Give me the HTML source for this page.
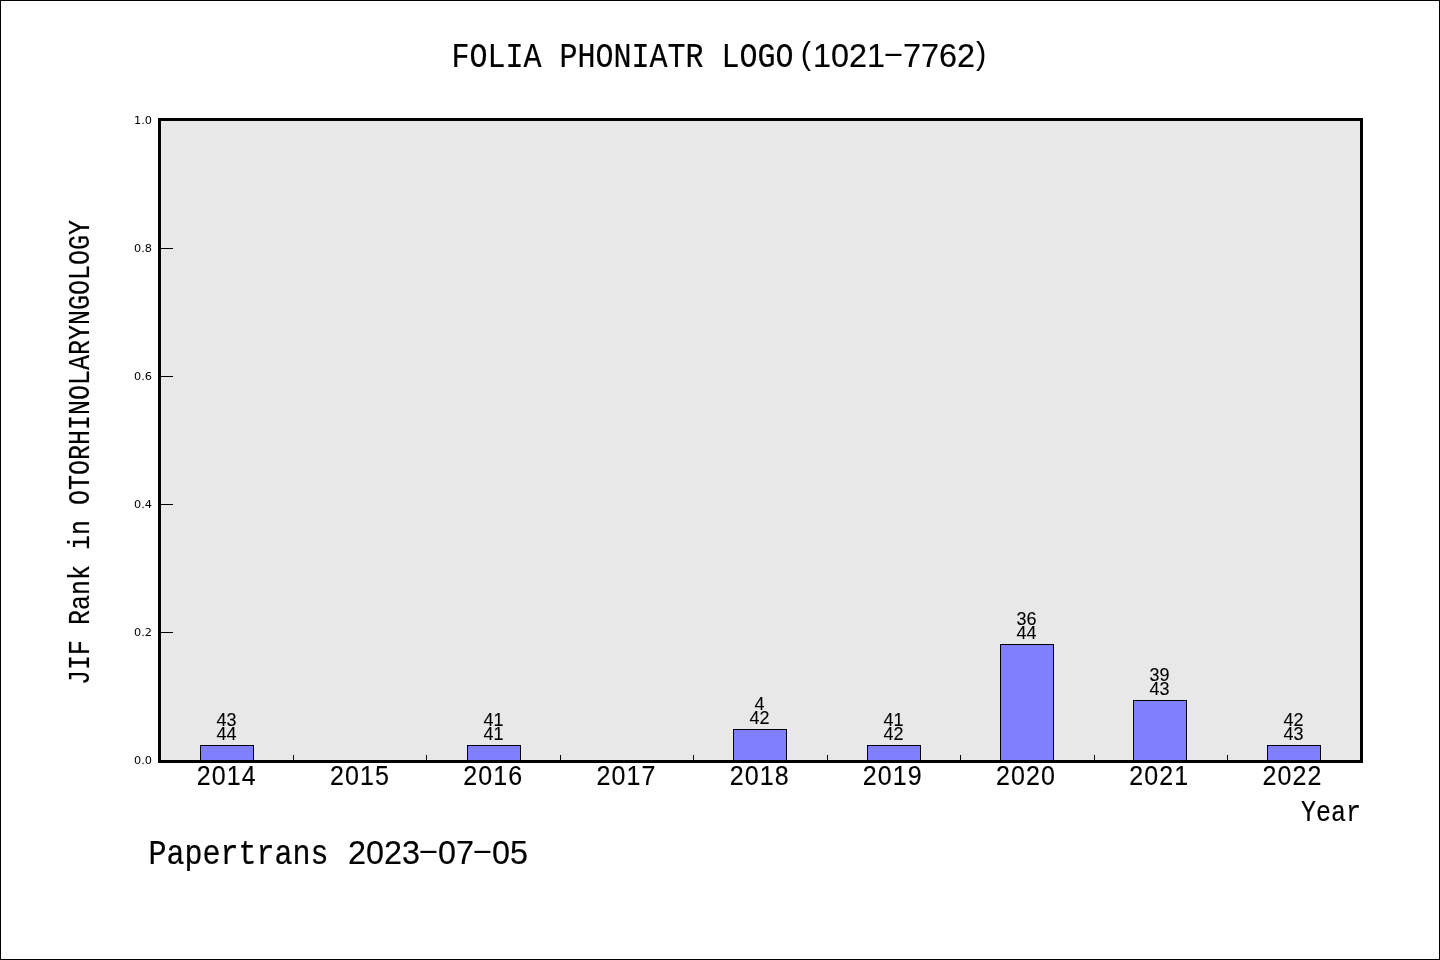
<!DOCTYPE html>
<html lang="en"><head><meta charset="utf-8"><title>FOLIA PHONIATR LOGO(1021-7762)</title>
<style>html,body{margin:0;padding:0;background:#fff;overflow:hidden}svg{display:block}text{fill:#000;white-space:pre}</style>
</head><body>
<svg width="1440" height="960" viewBox="0 0 1440 960">
<rect x="0" y="0" width="1440" height="960" fill="#fff"/>
<rect x="0.5" y="0.5" width="1439" height="959" fill="none" stroke="#000" stroke-width="1"/>
<rect x="159.5" y="119.5" width="1202" height="642" fill="#e8e8e8"/>
<rect x="200.5" y="745.5" width="53" height="15" fill="#8080ff" stroke="#000" stroke-width="1"/>
<rect x="467.5" y="745.5" width="53" height="15" fill="#8080ff" stroke="#000" stroke-width="1"/>
<rect x="733.5" y="729.5" width="53" height="31" fill="#8080ff" stroke="#000" stroke-width="1"/>
<rect x="867.5" y="745.5" width="53" height="15" fill="#8080ff" stroke="#000" stroke-width="1"/>
<rect x="1000.5" y="644.5" width="53" height="116" fill="#8080ff" stroke="#000" stroke-width="1"/>
<rect x="1133.5" y="700.5" width="53" height="60" fill="#8080ff" stroke="#000" stroke-width="1"/>
<rect x="1267.5" y="745.5" width="53" height="15" fill="#8080ff" stroke="#000" stroke-width="1"/>
<line x1="293.5" y1="755" x2="293.5" y2="761" stroke="#000" stroke-width="1"/>
<line x1="426.5" y1="755" x2="426.5" y2="761" stroke="#000" stroke-width="1"/>
<line x1="560.5" y1="755" x2="560.5" y2="761" stroke="#000" stroke-width="1"/>
<line x1="693.5" y1="755" x2="693.5" y2="761" stroke="#000" stroke-width="1"/>
<line x1="827.5" y1="755" x2="827.5" y2="761" stroke="#000" stroke-width="1"/>
<line x1="960.5" y1="755" x2="960.5" y2="761" stroke="#000" stroke-width="1"/>
<line x1="1094.5" y1="755" x2="1094.5" y2="761" stroke="#000" stroke-width="1"/>
<line x1="1227.5" y1="755" x2="1227.5" y2="761" stroke="#000" stroke-width="1"/>
<line x1="160" y1="632.5" x2="173" y2="632.5" stroke="#000" stroke-width="1"/>
<line x1="160" y1="504.5" x2="173" y2="504.5" stroke="#000" stroke-width="1"/>
<line x1="160" y1="376.5" x2="173" y2="376.5" stroke="#000" stroke-width="1"/>
<line x1="160" y1="248.5" x2="173" y2="248.5" stroke="#000" stroke-width="1"/>
<rect x="159.5" y="119.5" width="1202" height="642" fill="none" stroke="#000" stroke-width="3"/>
<text x="152" y="764" font-family="'DejaVu Sans', 'Liberation Sans', sans-serif" font-size="11.3" text-anchor="end">0.0</text>
<text x="152" y="636" font-family="'DejaVu Sans', 'Liberation Sans', sans-serif" font-size="11.3" text-anchor="end">0.2</text>
<text x="152" y="508" font-family="'DejaVu Sans', 'Liberation Sans', sans-serif" font-size="11.3" text-anchor="end">0.4</text>
<text x="152" y="380" font-family="'DejaVu Sans', 'Liberation Sans', sans-serif" font-size="11.3" text-anchor="end">0.6</text>
<text x="152" y="252" font-family="'DejaVu Sans', 'Liberation Sans', sans-serif" font-size="11.3" text-anchor="end">0.8</text>
<text x="152" y="124" font-family="'DejaVu Sans', 'Liberation Sans', sans-serif" font-size="11.3" text-anchor="end">1.0</text>
<text transform="translate(226.5 740.1)" font-size="19.44" font-family="'Liberation Mono', monospace" stroke="#000" stroke-width="0.12" xml:space="preserve"><tspan x="-10" y="0" font-family="'Liberation Sans', sans-serif" font-size="18.4" stroke-width="0.1" textLength="20" lengthAdjust="spacingAndGlyphs">44</tspan></text>
<text transform="translate(226.5 725.7)" font-size="19.44" font-family="'Liberation Mono', monospace" stroke="#000" stroke-width="0.12" xml:space="preserve"><tspan x="-10" y="0" font-family="'Liberation Sans', sans-serif" font-size="18.4" stroke-width="0.1" textLength="20" lengthAdjust="spacingAndGlyphs">43</tspan></text>
<text transform="translate(493.5 740.1)" font-size="19.44" font-family="'Liberation Mono', monospace" stroke="#000" stroke-width="0.12" xml:space="preserve"><tspan x="-10" y="0" font-family="'Liberation Sans', sans-serif" font-size="18.4" stroke-width="0.1" textLength="20" lengthAdjust="spacingAndGlyphs">41</tspan></text>
<text transform="translate(493.5 725.7)" font-size="19.44" font-family="'Liberation Mono', monospace" stroke="#000" stroke-width="0.12" xml:space="preserve"><tspan x="-10" y="0" font-family="'Liberation Sans', sans-serif" font-size="18.4" stroke-width="0.1" textLength="20" lengthAdjust="spacingAndGlyphs">41</tspan></text>
<text transform="translate(759.5 724.1)" font-size="19.44" font-family="'Liberation Mono', monospace" stroke="#000" stroke-width="0.12" xml:space="preserve"><tspan x="-10" y="0" font-family="'Liberation Sans', sans-serif" font-size="18.4" stroke-width="0.1" textLength="20" lengthAdjust="spacingAndGlyphs">42</tspan></text>
<text transform="translate(759.5 709.7)" font-size="19.44" font-family="'Liberation Mono', monospace" stroke="#000" stroke-width="0.12" xml:space="preserve"><tspan x="-5" y="0" font-family="'Liberation Sans', sans-serif" font-size="18.4" stroke-width="0.1" textLength="10" lengthAdjust="spacingAndGlyphs">4</tspan></text>
<text transform="translate(893.5 740.1)" font-size="19.44" font-family="'Liberation Mono', monospace" stroke="#000" stroke-width="0.12" xml:space="preserve"><tspan x="-10" y="0" font-family="'Liberation Sans', sans-serif" font-size="18.4" stroke-width="0.1" textLength="20" lengthAdjust="spacingAndGlyphs">42</tspan></text>
<text transform="translate(893.5 725.7)" font-size="19.44" font-family="'Liberation Mono', monospace" stroke="#000" stroke-width="0.12" xml:space="preserve"><tspan x="-10" y="0" font-family="'Liberation Sans', sans-serif" font-size="18.4" stroke-width="0.1" textLength="20" lengthAdjust="spacingAndGlyphs">41</tspan></text>
<text transform="translate(1026.5 639.1)" font-size="19.44" font-family="'Liberation Mono', monospace" stroke="#000" stroke-width="0.12" xml:space="preserve"><tspan x="-10" y="0" font-family="'Liberation Sans', sans-serif" font-size="18.4" stroke-width="0.1" textLength="20" lengthAdjust="spacingAndGlyphs">44</tspan></text>
<text transform="translate(1026.5 624.7)" font-size="19.44" font-family="'Liberation Mono', monospace" stroke="#000" stroke-width="0.12" xml:space="preserve"><tspan x="-10" y="0" font-family="'Liberation Sans', sans-serif" font-size="18.4" stroke-width="0.1" textLength="20" lengthAdjust="spacingAndGlyphs">36</tspan></text>
<text transform="translate(1159.5 695.1)" font-size="19.44" font-family="'Liberation Mono', monospace" stroke="#000" stroke-width="0.12" xml:space="preserve"><tspan x="-10" y="0" font-family="'Liberation Sans', sans-serif" font-size="18.4" stroke-width="0.1" textLength="20" lengthAdjust="spacingAndGlyphs">43</tspan></text>
<text transform="translate(1159.5 680.7)" font-size="19.44" font-family="'Liberation Mono', monospace" stroke="#000" stroke-width="0.12" xml:space="preserve"><tspan x="-10" y="0" font-family="'Liberation Sans', sans-serif" font-size="18.4" stroke-width="0.1" textLength="20" lengthAdjust="spacingAndGlyphs">39</tspan></text>
<text transform="translate(1293.5 740.1)" font-size="19.44" font-family="'Liberation Mono', monospace" stroke="#000" stroke-width="0.12" xml:space="preserve"><tspan x="-10" y="0" font-family="'Liberation Sans', sans-serif" font-size="18.4" stroke-width="0.1" textLength="20" lengthAdjust="spacingAndGlyphs">43</tspan></text>
<text transform="translate(1293.5 725.7)" font-size="19.44" font-family="'Liberation Mono', monospace" stroke="#000" stroke-width="0.12" xml:space="preserve"><tspan x="-10" y="0" font-family="'Liberation Sans', sans-serif" font-size="18.4" stroke-width="0.1" textLength="20" lengthAdjust="spacingAndGlyphs">42</tspan></text>
<text transform="translate(226.3 785)" font-size="29.16" font-family="'Liberation Mono', monospace" stroke="#000" stroke-width="0.18" xml:space="preserve"><tspan x="-29.46" y="0" font-family="'Liberation Sans', sans-serif" font-size="27.6" stroke-width="0.15" letter-spacing="1.2" textLength="60" lengthAdjust="spacingAndGlyphs">2014</tspan></text>
<text transform="translate(359.5 785)" font-size="29.16" font-family="'Liberation Mono', monospace" stroke="#000" stroke-width="0.18" xml:space="preserve"><tspan x="-29.46" y="0" font-family="'Liberation Sans', sans-serif" font-size="27.6" stroke-width="0.15" letter-spacing="1.2" textLength="60" lengthAdjust="spacingAndGlyphs">2015</tspan></text>
<text transform="translate(492.7 785)" font-size="29.16" font-family="'Liberation Mono', monospace" stroke="#000" stroke-width="0.18" xml:space="preserve"><tspan x="-29.46" y="0" font-family="'Liberation Sans', sans-serif" font-size="27.6" stroke-width="0.15" letter-spacing="1.2" textLength="60" lengthAdjust="spacingAndGlyphs">2016</tspan></text>
<text transform="translate(625.9 785)" font-size="29.16" font-family="'Liberation Mono', monospace" stroke="#000" stroke-width="0.18" xml:space="preserve"><tspan x="-29.46" y="0" font-family="'Liberation Sans', sans-serif" font-size="27.6" stroke-width="0.15" letter-spacing="1.2" textLength="60" lengthAdjust="spacingAndGlyphs">2017</tspan></text>
<text transform="translate(759.1 785)" font-size="29.16" font-family="'Liberation Mono', monospace" stroke="#000" stroke-width="0.18" xml:space="preserve"><tspan x="-29.46" y="0" font-family="'Liberation Sans', sans-serif" font-size="27.6" stroke-width="0.15" letter-spacing="1.2" textLength="60" lengthAdjust="spacingAndGlyphs">2018</tspan></text>
<text transform="translate(892.3 785)" font-size="29.16" font-family="'Liberation Mono', monospace" stroke="#000" stroke-width="0.18" xml:space="preserve"><tspan x="-29.46" y="0" font-family="'Liberation Sans', sans-serif" font-size="27.6" stroke-width="0.15" letter-spacing="1.2" textLength="60" lengthAdjust="spacingAndGlyphs">2019</tspan></text>
<text transform="translate(1025.5 785)" font-size="29.16" font-family="'Liberation Mono', monospace" stroke="#000" stroke-width="0.18" xml:space="preserve"><tspan x="-29.46" y="0" font-family="'Liberation Sans', sans-serif" font-size="27.6" stroke-width="0.15" letter-spacing="1.2" textLength="60" lengthAdjust="spacingAndGlyphs">2020</tspan></text>
<text transform="translate(1158.7 785)" font-size="29.16" font-family="'Liberation Mono', monospace" stroke="#000" stroke-width="0.18" xml:space="preserve"><tspan x="-29.46" y="0" font-family="'Liberation Sans', sans-serif" font-size="27.6" stroke-width="0.15" letter-spacing="1.2" textLength="60" lengthAdjust="spacingAndGlyphs">2021</tspan></text>
<text transform="translate(1291.9 785)" font-size="29.16" font-family="'Liberation Mono', monospace" stroke="#000" stroke-width="0.18" xml:space="preserve"><tspan x="-29.46" y="0" font-family="'Liberation Sans', sans-serif" font-size="27.6" stroke-width="0.15" letter-spacing="1.2" textLength="60" lengthAdjust="spacingAndGlyphs">2022</tspan></text>
<text transform="translate(1362.2 820.5)" font-size="29.16" font-family="'Liberation Mono', monospace" stroke="#000" stroke-width="0.18" xml:space="preserve"><tspan x="-61.26" y="0" textLength="60" lengthAdjust="spacingAndGlyphs">Year</tspan></text>
<text aria-label="Papertrans 2023-07-05" transform="translate(150 864)" font-size="34.99" font-family="'Liberation Mono', monospace" stroke="#000" stroke-width="0.22" xml:space="preserve"><tspan x="-1.51" y="0" textLength="198" lengthAdjust="spacingAndGlyphs">Papertrans </tspan><tspan x="198" y="0" font-family="'Liberation Sans', sans-serif" font-size="33.12" stroke-width="0.18" textLength="72" lengthAdjust="spacingAndGlyphs">2023</tspan><tspan x="267.52" y="-4.86" font-family="'Liberation Sans', sans-serif" font-size="28.08" stroke-width="0" textLength="21.89" lengthAdjust="spacingAndGlyphs">-</tspan><tspan x="288" y="0" font-family="'Liberation Sans', sans-serif" font-size="33.12" stroke-width="0.18" textLength="36" lengthAdjust="spacingAndGlyphs">07</tspan><tspan x="321.52" y="-4.86" font-family="'Liberation Sans', sans-serif" font-size="28.08" stroke-width="0" textLength="21.89" lengthAdjust="spacingAndGlyphs">-</tspan><tspan x="342" y="0" font-family="'Liberation Sans', sans-serif" font-size="33.12" stroke-width="0.18" textLength="36" lengthAdjust="spacingAndGlyphs">05</tspan></text>
<text aria-label="FOLIA PHONIATR LOGO(1021-7762)" transform="translate(720 67)" font-size="34.99" font-family="'Liberation Mono', monospace" stroke="#000" stroke-width="0.22" xml:space="preserve"><tspan x="-268.51" y="0" textLength="342" lengthAdjust="spacingAndGlyphs">FOLIA PHONIATR LOGO</tspan><tspan x="80.7" y="-2.8" font-family="'Liberation Sans', sans-serif" font-size="30.96" stroke-width="0">(</tspan><tspan x="93" y="0" font-family="'Liberation Sans', sans-serif" font-size="33.12" stroke-width="0.18" textLength="72" lengthAdjust="spacingAndGlyphs">1021</tspan><tspan x="162.52" y="-4.86" font-family="'Liberation Sans', sans-serif" font-size="28.08" stroke-width="0" textLength="21.89" lengthAdjust="spacingAndGlyphs">-</tspan><tspan x="183" y="0" font-family="'Liberation Sans', sans-serif" font-size="33.12" stroke-width="0.18" textLength="72" lengthAdjust="spacingAndGlyphs">7762</tspan><tspan x="256.1" y="-2.8" font-family="'Liberation Sans', sans-serif" font-size="30.96" stroke-width="0">)</tspan></text>
<text transform="translate(88.75 451.3) rotate(-90)" font-size="29.16" font-family="'Liberation Mono', monospace" stroke="#000" stroke-width="0.18" xml:space="preserve"><tspan x="-233.76" y="0" textLength="465" lengthAdjust="spacingAndGlyphs">JIF Rank in OTORHINOLARYNGOLOGY</tspan></text>
</svg>
</body></html>
